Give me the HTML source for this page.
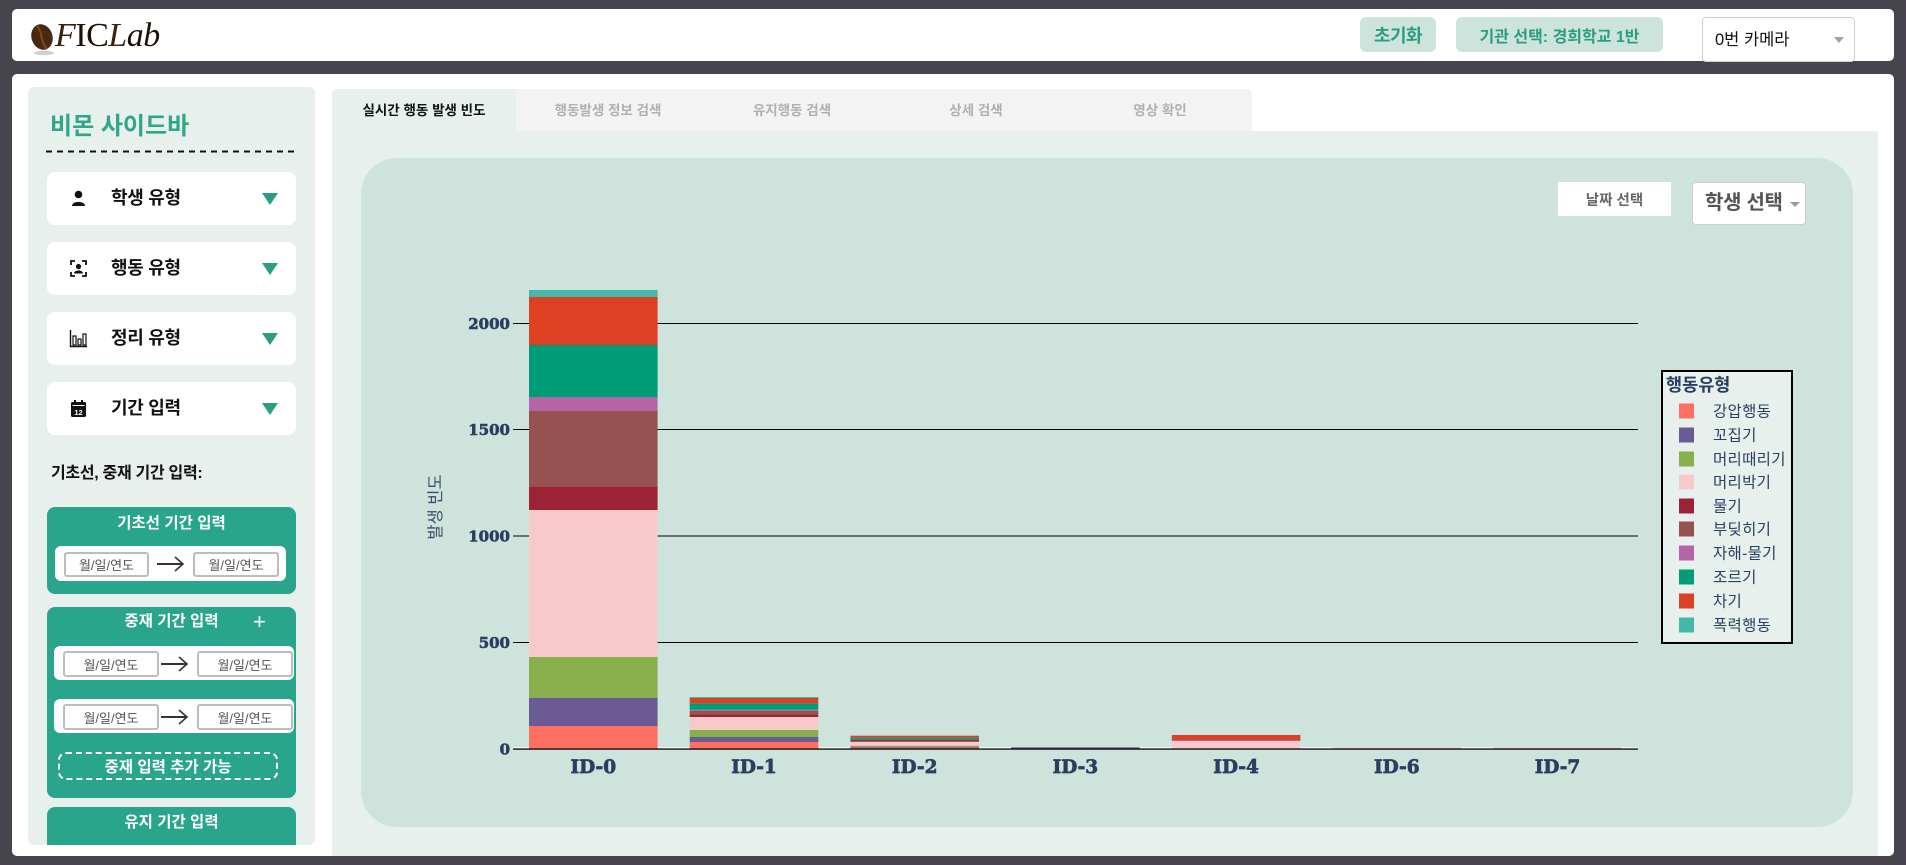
<!DOCTYPE html>
<html lang="ko">
<head>
<meta charset="utf-8">
<style>
  html,body{margin:0;padding:0;}
  body{width:1906px;height:865px;background:#48444f;position:relative;overflow:hidden;
       font-family:"Liberation Sans","Noto Sans CJK KR",sans-serif;}
  .abs{position:absolute;}
  .header{left:12px;top:9px;width:1882px;height:52px;background:#fff;border-radius:5px;}
  .main{left:12px;top:74px;width:1882px;height:782px;background:#fff;border-radius:5px;}
  .sidebar{left:28px;top:87px;width:287px;height:758px;background:#e8f0ee;border-radius:6px;overflow:hidden;}
  .btn{background:#cde4dc;border-radius:6px;color:#2b9c82;font-weight:bold;display:flex;align-items:center;justify-content:center;white-space:nowrap;}
  .card{left:47px;width:249px;height:53px;background:#fff;border-radius:8px;}
  .card .lbl{position:absolute;left:64px;top:0;height:53px;line-height:53px;font-size:18px;font-weight:bold;color:#111;letter-spacing:-0.3px;white-space:nowrap;}
  .card .ico{position:absolute;left:22px;top:17px;width:19px;height:19px;}
  .card .tri{position:absolute;left:215px;top:21px;width:0;height:0;border-left:8px solid transparent;border-right:8px solid transparent;border-top:12px solid #2a9d83;}
  .tealbox{left:47px;width:249px;background:#28a58b;border-radius:8px;}
  .tealtitle{position:absolute;left:0;width:100%;text-align:center;color:#fff;font-weight:bold;font-size:15.5px;white-space:nowrap;}
  .row{position:absolute;background:#fff;border-radius:6px;}
  .inp{position:absolute;border:2px solid #bdbdbd;border-radius:3px;background:#fff;color:#555;font-size:13px;display:flex;align-items:center;justify-content:center;box-sizing:border-box;white-space:nowrap;}
  .arrow{position:absolute;height:2px;background:#333;}
  .tabs{left:332px;top:89px;width:920px;height:42px;background:#f3f3f3;border-radius:5px 5px 0 0;}
  .tab{position:absolute;top:0;width:184px;height:42px;line-height:44px;text-align:center;font-size:13.5px;font-weight:bold;color:#b0b0b0;white-space:nowrap;}
  .tab.active{background:#e8f0ee;color:#111;border-radius:5px 0 0 0;}
  .content{left:332px;top:131px;width:1546px;height:725px;background:#e8f0ee;}
  .inner{left:361px;top:158px;width:1492px;height:669px;background:#cde3dc;border-radius:36px;}
</style>
</head>
<body>

<!-- Header -->
<div class="abs header"></div>
<svg class="abs" style="left:28px;top:22px" width="30" height="34" viewBox="0 0 30 34">
  <ellipse cx="16" cy="31" rx="10" ry="2.2" fill="#cfcfcf"/>
  <ellipse cx="14" cy="15" rx="10.5" ry="13" fill="#4a2a0e" transform="rotate(-18 14 15)"/>
  <path d="M9 4 C15 10, 12 20, 19 27" stroke="#7a4a22" stroke-width="2" fill="none"/>
</svg>
<div class="abs" style="left:55px;top:18px;font-family:'Liberation Serif',serif;font-size:34px;line-height:36px;color:#1a1208;white-space:nowrap;letter-spacing:-0.5px;">
  <span style="font-style:italic;color:#3b220c">F</span>IC<span style="font-style:italic;color:#3b220c">L</span><span style="font-style:italic">ab</span>
</div>

<div class="abs btn" style="left:1360px;top:17px;width:76px;height:35px;font-size:18px;letter-spacing:-0.5px;">초기화</div>
<div class="abs btn" style="left:1456px;top:17px;width:207px;height:35px;font-size:16px;">기관 선택: 경희학교 1반</div>
<div class="abs" style="left:1702px;top:17px;width:153px;height:45px;box-sizing:border-box;border:1px solid #cfcfcf;border-radius:4px;background:#fff;">
  <div class="abs" style="left:12px;top:0;height:44px;line-height:44px;font-size:16.5px;color:#111;white-space:nowrap;">0번 카메라</div>
  <div class="abs" style="left:131px;top:19px;width:0;height:0;border-left:5px solid transparent;border-right:5px solid transparent;border-top:6px solid #a0a0a0;"></div>
</div>

<!-- Main panel -->
<div class="abs main"></div>

<!-- Sidebar -->
<div class="abs sidebar">
  <div class="abs" style="left:22px;top:26px;font-size:24px;font-weight:bold;color:#2fa68a;white-space:nowrap;line-height:28px;">비몬 사이드바</div>
  <svg class="abs" style="left:18px;top:63px" width="253" height="3"><line x1="0" y1="1.5" x2="253" y2="1.5" stroke="#111" stroke-width="2" stroke-dasharray="6,5"/></svg>
</div>

<!-- Cards -->
<div class="abs card" style="top:172px;">
  <svg class="ico" viewBox="0 0 19 19"><circle cx="9.5" cy="5.5" r="3.8" fill="#111"/><path d="M3 17 C3 11.5, 16 11.5, 16 17 Z" fill="#111"/></svg>
  <div class="lbl">학생 유형</div><div class="tri"></div>
</div>
<div class="abs card" style="top:242px;">
  <svg class="ico" viewBox="0 0 19 19"><path d="M2 6 V2 H6 M13 2 H17 V6 M17 13 V17 H13 M6 17 H2 V13" stroke="#111" stroke-width="1.8" fill="none"/><circle cx="9.5" cy="7.5" r="2.6" fill="#111"/><path d="M5 14.5 C5 10.5, 14 10.5, 14 14.5 Z" fill="#111"/></svg>
  <div class="lbl">행동 유형</div><div class="tri"></div>
</div>
<div class="abs card" style="top:312px;">
  <svg class="ico" viewBox="0 0 19 19"><path d="M1.5 1 V17.5 H18" stroke="#111" stroke-width="1.4" fill="none"/><rect x="4" y="7" width="3" height="9" stroke="#111" stroke-width="1.2" fill="none"/><rect x="9" y="10" width="3" height="6" stroke="#111" stroke-width="1.2" fill="none"/><rect x="14" y="5" width="3" height="11" stroke="#111" stroke-width="1.2" fill="none"/></svg>
  <div class="lbl">정리 유형</div><div class="tri"></div>
</div>
<div class="abs card" style="top:382px;">
  <svg class="ico" viewBox="0 0 19 19"><rect x="2" y="3" width="15" height="15" rx="1.5" fill="#111"/><rect x="5" y="1" width="2" height="4" fill="#111"/><rect x="12" y="1" width="2" height="4" fill="#111"/><rect x="3.5" y="6" width="12" height="1" fill="#fff"/><text x="9.5" y="16" font-size="7.5" font-family="Liberation Sans, sans-serif" font-weight="bold" fill="#fff" text-anchor="middle">12</text></svg>
  <div class="lbl">기간 입력</div><div class="tri"></div>
</div>

<div class="abs" style="left:51px;top:463px;font-size:16px;font-weight:bold;color:#111;white-space:nowrap;line-height:21px;letter-spacing:-0.3px;">기초선, 중재 기간 입력:</div>

<!-- 기초선 -->
<div class="abs tealbox" style="top:507px;height:87px;">
  <div class="tealtitle" style="top:7px;line-height:20px;">기초선 기간 입력</div>
  <div class="row" style="left:8px;top:39px;width:231px;height:35px;">
    <div class="inp" style="left:9px;top:6px;width:85px;height:25px;">월/일/연도</div>
    <div class="arrow" style="left:102px;top:17px;width:26px;"></div>
    <svg class="abs" style="left:118px;top:10px" width="12" height="16"><path d="M2 1 L10 8 L2 15" stroke="#333" stroke-width="1.6" fill="none"/></svg>
    <div class="inp" style="left:138px;top:6px;width:86px;height:25px;">월/일/연도</div>
  </div>
</div>

<!-- 중재 -->
<div class="abs tealbox" style="top:607px;height:191px;">
  <div class="tealtitle" style="top:5px;line-height:20px;">중재 기간 입력</div>
  <div class="abs" style="left:206px;top:2px;color:#fff;font-size:22px;line-height:26px;">+</div>
  <div class="row" style="left:7px;top:39px;width:240px;height:34px;">
    <div class="inp" style="left:9px;top:5px;width:96px;height:26px;">월/일/연도</div>
    <div class="arrow" style="left:107px;top:17px;width:26px;"></div>
    <svg class="abs" style="left:123px;top:10px" width="12" height="16"><path d="M2 1 L10 8 L2 15" stroke="#333" stroke-width="1.6" fill="none"/></svg>
    <div class="inp" style="left:143px;top:5px;width:96px;height:26px;">월/일/연도</div>
  </div>
  <div class="row" style="left:7px;top:92px;width:240px;height:34px;">
    <div class="inp" style="left:9px;top:5px;width:96px;height:26px;">월/일/연도</div>
    <div class="arrow" style="left:107px;top:17px;width:26px;"></div>
    <svg class="abs" style="left:123px;top:10px" width="12" height="16"><path d="M2 1 L10 8 L2 15" stroke="#333" stroke-width="1.6" fill="none"/></svg>
    <div class="inp" style="left:143px;top:5px;width:96px;height:26px;">월/일/연도</div>
  </div>
  <div class="abs" style="left:11px;top:145px;width:220px;height:28px;box-sizing:border-box;border:2px dashed #fff;border-radius:8px;color:#fff;font-weight:bold;font-size:15.5px;display:flex;align-items:center;justify-content:center;white-space:nowrap;">중재 입력 추가 가능</div>
</div>

<!-- 유지 -->
<div class="abs tealbox" style="top:807px;height:38px;border-radius:8px 8px 0 0;">
  <div class="tealtitle" style="top:6px;line-height:20px;">유지 기간 입력</div>
</div>

<!-- Tabs -->
<div class="abs tabs">
  <div class="tab active" style="left:0;">실시간 행동 발생 빈도</div>
  <div class="tab" style="left:184px;">행동발생 정보 검색</div>
  <div class="tab" style="left:368px;">유지행동 검색</div>
  <div class="tab" style="left:552px;">상세 검색</div>
  <div class="tab" style="left:736px;">영상 확인</div>
</div>
<div class="abs content"></div>
<div class="abs inner"></div>

<!-- Controls on chart -->
<div class="abs" style="left:1558px;top:182px;width:113px;height:34px;background:#fff;color:#666;font-weight:bold;font-size:14.5px;display:flex;align-items:center;justify-content:center;white-space:nowrap;">날짜 선택</div>
<div class="abs" style="left:1692px;top:182px;width:114px;height:43px;box-sizing:border-box;background:#fff;border:1px solid #cfcfcf;border-radius:4px;">
  <div class="abs" style="left:12px;top:0;height:41px;line-height:41px;font-size:20px;font-weight:bold;color:#555;white-space:nowrap;letter-spacing:-0.3px;">학생 선택</div>
  <div class="abs" style="left:97px;top:19px;width:0;height:0;border-left:5px solid transparent;border-right:5px solid transparent;border-top:5px solid #999;"></div>
</div>

<!-- Chart -->
<svg class="abs" style="left:0;top:0" width="1906" height="865" viewBox="0 0 1906 865">
  <g stroke="#000" stroke-width="1">
    <line x1="513" y1="323.5" x2="1638" y2="323.5"/>
    <line x1="513" y1="429.5" x2="1638" y2="429.5"/>
    <line x1="513" y1="536" x2="1638" y2="536"/>
    <line x1="513" y1="642.5" x2="1638" y2="642.5"/>
  </g>
  <rect x="513" y="747.3" width="1125" height="1.2" fill="#fff"/>

  <!-- ID-0 -->
  <g>
    <rect x="529" y="726" width="128.6" height="22.5" fill="#FF6F61"/>
    <rect x="529" y="697.7" width="128.6" height="28.3" fill="#6B5B95"/>
    <rect x="529" y="657" width="128.6" height="40.7" fill="#88B04B"/>
    <rect x="529" y="510" width="128.6" height="147" fill="#F7CAC9"/>
    <rect x="529" y="487" width="128.6" height="23" fill="#9B2335"/>
    <rect x="529" y="411" width="128.6" height="76" fill="#955251"/>
    <rect x="529" y="397" width="128.6" height="14" fill="#B565A7"/>
    <rect x="529" y="345" width="128.6" height="52" fill="#009B77"/>
    <rect x="529" y="297" width="128.6" height="48" fill="#DD4124"/>
    <rect x="529" y="290" width="128.6" height="7" fill="#45B8AC"/>
  </g>
  <!-- ID-1 -->
  <g>
    <rect x="689.7" y="742" width="128.6" height="6.5" fill="#FF6F61"/>
    <rect x="689.7" y="737" width="128.6" height="5" fill="#6B5B95"/>
    <rect x="689.7" y="730" width="128.6" height="7" fill="#88B04B"/>
    <rect x="689.7" y="717" width="128.6" height="13" fill="#F7CAC9"/>
    <rect x="689.7" y="715" width="128.6" height="2" fill="#9B2335"/>
    <rect x="689.7" y="710.7" width="128.6" height="4.3" fill="#955251"/>
    <rect x="689.7" y="709.7" width="128.6" height="1" fill="#B565A7"/>
    <rect x="689.7" y="703.3" width="128.6" height="6.4" fill="#009B77"/>
    <rect x="689.7" y="698" width="128.6" height="5.3" fill="#DD4124"/>
    <rect x="689.7" y="697" width="128.6" height="1" fill="#45B8AC"/>
  </g>
  <!-- ID-2 -->
  <g>
    <rect x="850.4" y="747.5" width="128.6" height="1" fill="#FF6F61"/>
    <rect x="850.4" y="746.7" width="128.6" height="0.8" fill="#6B5B95"/>
    <rect x="850.4" y="745.7" width="128.6" height="1" fill="#88B04B"/>
    <rect x="850.4" y="741.7" width="128.6" height="4" fill="#F7CAC9"/>
    <rect x="850.4" y="739.7" width="128.6" height="2" fill="#9B2335"/>
    <rect x="850.4" y="737.7" width="128.6" height="2" fill="#009B77"/>
    <rect x="850.4" y="735.7" width="128.6" height="2" fill="#DD4124"/>
  </g>
  <!-- ID-3 -->
  <rect x="1011.1" y="747.3" width="128.6" height="1.2" fill="#6B5B95"/>
  <!-- ID-4 -->
  <g>
    <rect x="1171.8" y="741" width="128.6" height="7.5" fill="#F7CAC9"/>
    <rect x="1171.8" y="740" width="128.6" height="1" fill="#B565A7"/>
    <rect x="1171.8" y="735" width="128.6" height="5" fill="#DD4124"/>
  </g>
  <!-- ID-6, ID-7 -->
  <rect x="1332.5" y="747.3" width="128.6" height="1.2" fill="#F7CAC9"/>
  <rect x="1493.2" y="747.3" width="128.6" height="1.2" fill="#F7CAC9"/>

  <rect x="513" y="748.4" width="1125" height="1.3" fill="#000"/>

  <!-- Y tick labels -->
  <g font-family="DejaVu Serif, serif" font-weight="bold" font-size="15" fill="#2a3f5f" stroke="#2a3f5f" stroke-width="0.6" text-anchor="end">
    <text x="510" y="329">2000</text>
    <text x="510" y="435">1500</text>
    <text x="510" y="541.5">1000</text>
    <text x="510" y="648">500</text>
    <text x="510" y="754.5">0</text>
  </g>
  <!-- X labels -->
  <g font-family="DejaVu Serif, serif" font-weight="bold" font-size="18.5" fill="#2a3f5f" stroke="#2a3f5f" stroke-width="0.7" text-anchor="middle">
    <text x="593.3" y="773">ID-0</text>
    <text x="754" y="773">ID-1</text>
    <text x="914.7" y="773">ID-2</text>
    <text x="1075.4" y="773">ID-3</text>
    <text x="1236.1" y="773">ID-4</text>
    <text x="1396.8" y="773">ID-6</text>
    <text x="1557.5" y="773">ID-7</text>
  </g>
  <!-- Y axis title -->
  <text x="0" y="0" transform="translate(441 507) rotate(-90)" font-family="Liberation Sans, Noto Sans CJK KR, sans-serif" font-size="16.5" fill="#3a4c6b" text-anchor="middle">발생 빈도</text>

  <!-- Legend -->
  <rect x="1662" y="371" width="130" height="272" fill="#e8f0ee" stroke="#000" stroke-width="2"/>
  <text x="1666" y="391" font-family="Liberation Sans, Noto Sans CJK KR, sans-serif" font-weight="bold" font-size="17.5" fill="#2a3f5f">행동유형</text>
  <g font-family="Liberation Sans, Noto Sans CJK KR, sans-serif" font-size="15.5" fill="#2a3f5f" letter-spacing="0.3">
    <rect x="1679" y="403.5" width="15" height="15" fill="#FF6F61"/><text x="1713" y="416.5">강압행동</text>
    <rect x="1679" y="427.5" width="15" height="15" fill="#6B5B95"/><text x="1713" y="440.5">꼬집기</text>
    <rect x="1679" y="451.5" width="15" height="15" fill="#88B04B"/><text x="1713" y="464.5">머리때리기</text>
    <rect x="1679" y="474.5" width="15" height="15" fill="#F7CAC9"/><text x="1713" y="487.5">머리박기</text>
    <rect x="1679" y="498.5" width="15" height="15" fill="#9B2335"/><text x="1713" y="511.5">물기</text>
    <rect x="1679" y="521.5" width="15" height="15" fill="#955251"/><text x="1713" y="534.5">부딪히기</text>
    <rect x="1679" y="545.5" width="15" height="15" fill="#B565A7"/><text x="1713" y="558.5">자해-물기</text>
    <rect x="1679" y="569.5" width="15" height="15" fill="#009B77"/><text x="1713" y="582.5">조르기</text>
    <rect x="1679" y="593.5" width="15" height="15" fill="#DD4124"/><text x="1713" y="606.5">차기</text>
    <rect x="1679" y="617.5" width="15" height="15" fill="#45B8AC"/><text x="1713" y="630.5">폭력행동</text>
  </g>
</svg>

</body>
</html>
